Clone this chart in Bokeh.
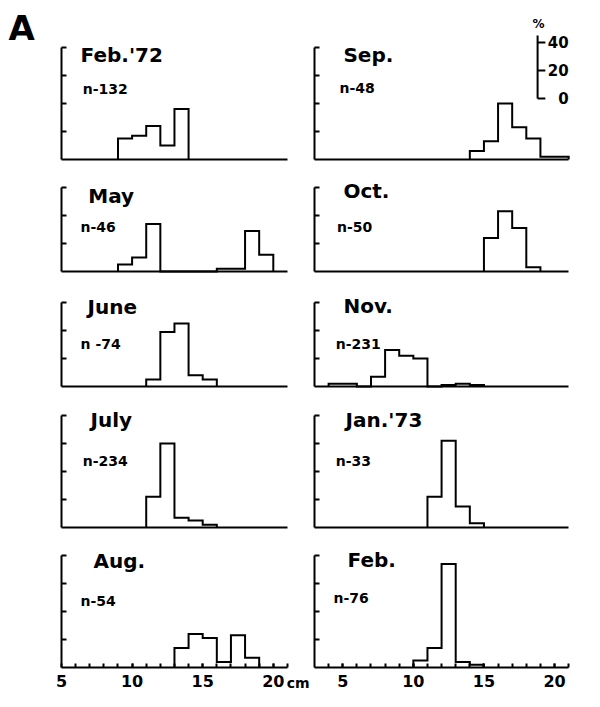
from bokeh.plotting import figure
from bokeh.layouts import column, row
from bokeh.models import Range1d, FixedTicker, LinearAxis, Label
from bokeh.embed import file_html
from bokeh.resources import INLINE

# ---------------- data (percent of fish per 1-cm length class) ----------------
feb72_bins = [9, 10, 11, 12, 13]
feb72_pct = [15, 17, 24, 10, 36]
may_bins = [9, 10, 11, 12, 13, 14, 15, 16, 17, 18, 19]
may_pct = [5, 10, 34, 0, 0, 0, 0, 2, 2, 29, 12]
june_bins = [11, 12, 13, 14, 15]
june_pct = [5, 39, 45, 8, 5]
july_bins = [11, 12, 13, 14, 15]
july_pct = [22, 60, 7, 5, 2]
aug_bins = [13, 14, 15, 16, 17, 18]
aug_pct = [14, 24, 21, 4, 23, 7]
sep_bins = [14, 15, 16, 17, 18, 19, 20]
sep_pct = [6, 13, 40, 23, 15, 2, 2]
oct_bins = [15, 16, 17, 18]
oct_pct = [24, 43, 31, 3]
nov_bins = [4, 5, 6, 7, 8, 9, 10, 11, 12, 13, 14]
nov_pct = [2, 2, 0, 7, 26, 22, 20, 0, 1, 2, 1]
jan73_bins = [11, 12, 13, 14]
jan73_pct = [22, 62, 15, 3]
feb73_bins = [10, 11, 12, 13, 14]
feb73_pct = [5, 14, 74, 4, 2]

months = ["Feb.'72", "May", "June", "July", "Aug.", "Sep.", "Oct.", "Nov.", "Jan.'73", "Feb."]
n_labels = ["n-132", "n-46", "n -74", "n-234", "n-54", "n-48", "n-50", "n-231", "n-33", "n-76"]
x_tick_labels = [5, 10, 15, 20]
scale_ticks = [0, 20, 40]

# ---------------- layout constants ----------------
FONT = "DejaVu Sans"
PX_PER_PCT = 1.4
PX_PER_CM = 14.12
row_tops = [0, 170, 282, 397, 538]
row_heights = [170, 112, 115, 141, 169]
row_baselines = [159, 271, 386, 527, 667]
row_axis_top = [80, 60, 60, 80, 80]
COL_W = [310, 290]
COL_LEFT = [0, 310]
COL_AXIS_PX = [61, 314]
COL_AXIS_CM = [5, 3]
COL_END_CM = 21


def panel(bins, pct, col, r, month, ntext, mpos, npos, bottom=False):
    w, h = COL_W[col], row_heights[r]
    # ranges chosen so that the frame fills the whole figure
    x0 = COL_AXIS_CM[col] - (COL_AXIS_PX[col] - COL_LEFT[col]) / PX_PER_CM
    x1 = x0 + w / PX_PER_CM
    y1 = (row_baselines[r] - row_tops[r]) / PX_PER_PCT
    y0 = y1 - h / PX_PER_PCT
    p = figure(width=w, height=h, x_axis_type=None, y_axis_type=None,
               x_range=Range1d(x0, x1), y_range=Range1d(y0, y1),
               toolbar_location=None, output_backend="svg",
               min_border_left=0, min_border_right=0,
               min_border_top=0, min_border_bottom=0)
    p.outline_line_color = None
    p.background_fill_color = "white"
    p.border_fill_color = "white"

    top = row_axis_top[r]
    ya = LinearAxis(ticker=FixedTicker(ticks=list(range(20, top + 1, 20))),
                    bounds=(0, top), fixed_location=COL_AXIS_CM[col])
    ya.axis_line_width = 2
    ya.major_tick_line_width = 2
    ya.major_tick_in = 5
    ya.major_tick_out = 0
    ya.minor_tick_line_color = None
    ya.major_label_text_font_size = "0px"
    ya.major_label_text_color = None
    ya.major_label_standoff = 0
    p.add_layout(ya, "left")

    xa = LinearAxis(bounds=(COL_AXIS_CM[col], COL_END_CM), fixed_location=0)
    xa.axis_line_width = 2
    if bottom:
        minor = list(range(COL_AXIS_CM[col] + 1, COL_END_CM + 1))
        xa.ticker = FixedTicker(ticks=x_tick_labels, minor_ticks=minor)
        xa.major_tick_in = 4
        xa.major_tick_out = 0
        xa.minor_tick_in = 4
        xa.minor_tick_out = 0
        xa.major_tick_line_width = 2
        xa.minor_tick_line_width = 2
        xa.major_label_text_font = FONT
        xa.major_label_text_font_style = "bold"
        xa.major_label_text_font_size = "16px"
        xa.major_label_text_color = "black"
        xa.major_label_standoff = 7
    else:
        xa.ticker = FixedTicker(ticks=[])
        xa.major_tick_line_color = None
        xa.minor_tick_line_color = None
        xa.major_label_text_font_size = "0px"
        xa.major_label_text_color = None
        xa.major_label_standoff = 0
    p.add_layout(xa, "below")

    xs = [bins[0]] + list(bins) + [bins[-1] + 1]
    ys = [0] + list(pct) + [0]
    p.step(xs, ys, mode="after", line_color="black", line_width=2,
           line_join="miter")

    p.add_layout(Label(x=mpos[0], y=mpos[1], text=month, text_font=FONT,
                       text_font_style="bold", text_font_size="20px",
                       text_baseline="bottom", text_color="black"))
    p.add_layout(Label(x=npos[0], y=npos[1], text=ntext, text_font=FONT,
                       text_font_style="bold", text_font_size="14px",
                       text_baseline="bottom", text_color="black"))
    return p


p_feb72 = panel(feb72_bins, feb72_pct, 0, 0, months[0], n_labels[0], (6.35, 65.9), (6.5, 44.6))
p_may = panel(may_bins, may_pct, 0, 1, months[1], n_labels[1], (6.9, 45.2), (6.35, 26.2))
p_june = panel(june_bins, june_pct, 0, 2, months[2], n_labels[2], (6.84, 48.0), (6.35, 24.6))
p_july = panel(july_bins, july_pct, 0, 3, months[3], n_labels[3], (7.05, 68.0), (6.5, 41.6))
p_aug = panel(aug_bins, aug_pct, 0, 4, months[4], n_labels[4], (7.27, 67.3), (6.35, 41.6), bottom=True)

p_sep = panel(sep_bins, sep_pct, 1, 0, months[5], n_labels[5], (5.05, 65.9), (4.77, 45.6))
p_oct = panel(oct_bins, oct_pct, 1, 1, months[6], n_labels[6], (5.05, 48.6), (4.6, 26.2))
p_nov = panel(nov_bins, nov_pct, 1, 2, months[7], n_labels[7], (5.05, 48.6), (4.5, 24.6))
p_jan73 = panel(jan73_bins, jan73_pct, 1, 3, months[8], n_labels[8], (5.2, 68.0), (4.5, 41.6))
p_feb73 = panel(feb73_bins, feb73_pct, 1, 4, months[9], n_labels[9], (5.34, 68.0), (4.35, 43.6), bottom=True)

# panel letter
p_feb72.add_layout(Label(x=1.25, y=79.3, text="A", text_font=FONT, text_font_style="bold",
                         text_font_size="34px", text_baseline="bottom", text_color="black"))
# unit label
p_aug.add_layout(Label(x=20.95, y=-16.6, text="cm", text_font=FONT, text_font_style="bold",
                       text_font_size="14px", text_baseline="bottom", text_color="black"))

# percentage scale bar in the Sep. panel
SCALE_X, SCALE_Y0, TICK_LEN, LABEL_X = 18.8, 43.6, 0.55, 21.0
p_sep.segment(x0=[SCALE_X], y0=[SCALE_Y0], x1=[SCALE_X], y1=[SCALE_Y0 + 45],
              line_color="black", line_width=2)
p_sep.segment(x0=[SCALE_X] * len(scale_ticks), y0=[SCALE_Y0 + v for v in scale_ticks],
              x1=[SCALE_X + TICK_LEN] * len(scale_ticks), y1=[SCALE_Y0 + v for v in scale_ticks],
              line_color="black", line_width=2)
for v in scale_ticks:
    p_sep.add_layout(Label(x=LABEL_X, y=SCALE_Y0 + v, text=str(v), text_font=FONT,
                           text_font_style="bold", text_font_size="15px",
                           text_align="right", text_baseline="middle", text_color="black"))
p_sep.add_layout(Label(x=18.87, y=97.1, text="%", text_font=FONT, text_font_style="bold",
                       text_font_size="12px", text_align="center", text_baseline="middle",
                       text_color="black"))

layout = column(
    row(p_feb72, p_sep),
    row(p_may, p_oct),
    row(p_june, p_nov),
    row(p_july, p_jan73),
    row(p_aug, p_feb73),
)

open("out.html", "w").write(file_html(layout, INLINE))
